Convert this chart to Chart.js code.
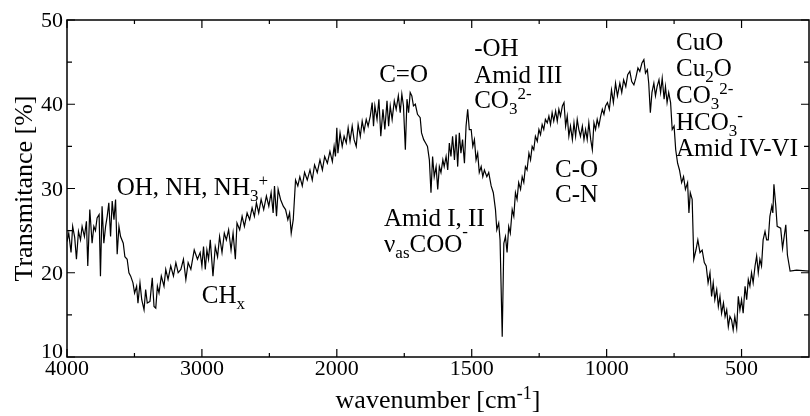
<!DOCTYPE html>
<html>
<head>
<meta charset="utf-8">
<script src="https://cdn.jsdelivr.net/npm/chart.js@4.4.1/dist/chart.umd.min.js"></script>
<style>
  html, body { margin: 0; padding: 0; background: #fff; }
  #wrap { width: 810px; height: 416px; position: relative; }
</style>
</head>
<body>
<div id="wrap"><canvas id="ir"></canvas></div>
<script>
// spectrum (wavenumber in cm-1, transmittance in %)
const wavenumber = [
  4000, 3987, 3970, 3958, 3943, 3930, 3915, 3900, 3888, 3871, 3856, 3846, 3831, 3814, 3801, 3789,
  3777, 3762, 3752, 3740, 3727, 3714, 3702, 3690, 3677, 3665, 3652, 3640, 3628, 3615, 3603, 3583,
  3571, 3554, 3541, 3528, 3511, 3499, 3484, 3474, 3459, 3446, 3429, 3417, 3405, 3385, 3368, 3355,
  3342, 3330, 3318, 3301, 3281, 3268, 3251, 3231, 3211, 3193, 3176, 3156, 3137, 3119, 3102, 3082,
  3057, 3033, 3013, 3000, 2988, 2975, 2963, 2951, 2938, 2918, 2901, 2884, 2869, 2851, 2834, 2819,
  2802, 2784, 2769, 2752, 2740, 2720, 2702, 2685, 2665, 2646, 2628, 2611, 2596, 2579, 2561, 2542,
  2522, 2504, 2487, 2472, 2462, 2447, 2435, 2417, 2397, 2380, 2363, 2350, 2338, 2323, 2306, 2289,
  2274, 2256, 2239, 2219, 2199, 2182, 2165, 2145, 2125, 2107, 2090, 2070, 2051, 2033, 2020, 2010,
  2000, 1996, 1988, 1980, 1973, 1965, 1958, 1951, 1943, 1936, 1928, 1921, 1913, 1906, 1899, 1891,
  1884, 1876, 1869, 1864, 1859, 1851, 1844, 1837, 1829, 1822, 1814, 1808, 1802, 1795, 1787, 1780,
  1772, 1765, 1759, 1753, 1746, 1740, 1734, 1728, 1722, 1716, 1709, 1701, 1691, 1686, 1678, 1671,
  1664, 1657, 1651, 1645, 1639, 1632, 1626, 1620, 1614, 1607, 1602, 1595, 1589, 1583, 1577, 1571,
  1564, 1558, 1552, 1546, 1540, 1534, 1527, 1521, 1515, 1509, 1502, 1496, 1490, 1484, 1478, 1472,
  1465, 1459, 1453, 1444, 1437, 1428, 1420, 1412, 1407, 1400, 1395, 1387, 1381, 1375, 1369, 1363,
  1357, 1350, 1344, 1338, 1332, 1326, 1319, 1313, 1307, 1301, 1295, 1288, 1282, 1276, 1270, 1264,
  1257, 1251, 1245, 1239, 1233, 1227, 1220, 1214, 1208, 1202, 1196, 1189, 1183, 1177, 1171, 1164,
  1158, 1152, 1146, 1140, 1134, 1127, 1121, 1115, 1109, 1103, 1097, 1090, 1084, 1078, 1072, 1066,
  1059, 1053, 1047, 1041, 1035, 1029, 1022, 1016, 1010, 1004, 997, 990, 982, 975, 967, 960,
  951, 944, 937, 929, 922, 914, 907, 899, 892, 884, 877, 869, 862, 856, 849, 844,
  838, 832, 825, 819, 813, 806, 800, 794, 787, 782, 776, 770, 763, 757, 750, 744,
  737, 730, 722, 715, 708, 700, 695, 690, 683, 677, 669, 662, 654, 646, 638, 631,
  624, 617, 611, 605, 599, 592, 586, 580, 574, 567, 561, 555, 549, 543, 537, 531,
  525, 518, 512, 506, 500, 494, 487, 481, 475, 469, 463, 457, 450, 444, 438, 432,
  426, 420, 413, 407, 401, 395, 388, 384, 380, 373, 368, 355, 348, 336, 330, 320,
  296, 250
];
const transmittance = [
  23.7, 24.7, 22.4, 25.5, 24.2, 21.6, 24.9, 23.9, 25.5, 24.3, 26.1, 20.8, 27.5, 23.5, 25.5, 25.0,
  26.5, 26.9, 19.6, 27.9, 23.5, 25.5, 26.7, 28.3, 24.3, 28.5, 26.3, 28.7, 22.2, 25.5, 24.3, 23.5,
  21.9, 21.6, 20.0, 19.6, 18.8, 17.6, 18.4, 16.4, 18.8, 16.8, 15.6, 18.0, 16.4, 16.6, 19.4, 16.0,
  15.8, 18.4, 17.6, 19.6, 18.4, 20.4, 19.2, 20.8, 19.6, 21.2, 20.0, 20.4, 21.6, 19.2, 21.2, 20.4,
  22.7, 21.6, 22.4, 20.8, 23.1, 20.4, 22.7, 21.6, 23.9, 19.6, 23.1, 21.9, 24.3, 22.4, 24.7, 23.9,
  25.1, 22.7, 24.7, 21.6, 25.9, 25.1, 26.7, 25.5, 27.1, 26.3, 27.7, 26.7, 28.3, 27.1, 28.7, 27.5,
  29.1, 27.9, 29.5, 27.1, 30.3, 26.7, 29.9, 28.7, 27.9, 27.5, 26.3, 27.1, 24.7, 26.3, 31.0, 30.3,
  31.4, 30.3, 31.9, 31.0, 32.2, 31.0, 32.8, 31.9, 33.4, 32.2, 33.8, 33.0, 34.4, 33.2, 35.0, 33.8,
  37.2, 34.2, 36.6, 35.0, 36.2, 35.4, 37.2, 35.6, 37.4, 35.8, 35.0, 37.6, 36.2, 38.0, 36.8, 38.2,
  37.4, 38.6, 40.2, 37.4, 39.8, 38.2, 40.6, 36.2, 39.4, 37.0, 40.4, 37.4, 39.8, 38.2, 40.4, 39.4,
  41.0, 39.0, 41.2, 39.8, 34.6, 40.6, 39.0, 41.4, 41.0, 39.8, 40.0, 38.8, 38.4, 36.6, 35.8, 35.4,
  35.0, 33.4, 29.5, 33.8, 31.4, 32.6, 29.9, 32.6, 31.9, 33.4, 32.6, 33.8, 32.2, 35.4, 33.8, 36.2,
  33.4, 36.4, 32.6, 36.6, 34.2, 35.8, 33.0, 37.4, 39.4, 37.0, 37.0, 35.0, 35.8, 33.4, 34.2, 31.9,
  32.6, 31.4, 32.2, 31.4, 31.9, 30.3, 29.5, 27.5, 25.1, 25.9, 23.9, 12.4, 23.5, 24.3, 22.4, 25.5,
  24.7, 27.5, 26.7, 29.5, 28.7, 30.7, 29.9, 31.4, 30.7, 32.6, 32.2, 34.2, 33.4, 35.0, 34.6, 36.2,
  35.6, 37.0, 36.4, 37.6, 37.0, 38.2, 37.8, 38.6, 37.6, 39.0, 38.0, 39.2, 38.0, 39.4, 38.6, 39.8,
  40.2, 37.4, 38.6, 36.2, 37.4, 35.8, 37.8, 36.2, 38.2, 37.0, 36.2, 37.4, 35.8, 37.0, 35.8, 37.8,
  35.8, 34.6, 37.8, 37.0, 38.2, 37.4, 38.6, 39.4, 38.8, 39.8, 40.2, 39.4, 41.7, 40.2, 42.5, 41.0,
  42.5, 41.4, 42.9, 42.1, 43.5, 43.9, 42.7, 42.3, 43.1, 44.3, 43.9, 44.9, 45.3, 43.7, 44.1, 42.5,
  39.0, 41.4, 42.5, 41.0, 42.1, 42.9, 41.4, 43.1, 40.6, 42.1, 40.2, 41.4, 40.2, 37.0, 37.4, 34.6,
  33.0, 32.2, 30.7, 31.4, 29.9, 30.7, 27.1, 29.5, 28.7, 21.6, 22.7, 23.9, 22.4, 22.7, 21.2, 20.8,
  18.8, 20.0, 17.2, 18.8, 16.8, 18.0, 16.0, 17.2, 15.2, 16.4, 14.8, 15.6, 13.6, 14.8, 14.4, 13.2,
  14.8, 13.4, 17.2, 15.6, 16.8, 15.2, 18.4, 16.8, 19.2, 18.4, 20.0, 18.8, 20.8, 22.0, 20.0, 21.6,
  20.8, 23.9, 24.9, 23.9, 23.9, 26.7, 27.9, 27.1, 30.5, 27.9, 25.5, 25.3, 22.9, 25.7, 22.1, 20.2,
  20.3, 20.2
];

// axis ticks
const xMajor = [4000, 3000, 2000, 1500, 1000, 500];
const xMinor = [3500, 2500, 1750, 1250, 750];
const yMajor = [10, 20, 30, 40, 50];
const yMinor = [15, 25, 35, 45];

// band labels, anchored at (wavenumber, transmittance) of each line's baseline start
const notes = [
  { w: 3632, v: 29.2, segs: [['OH, NH, NH'], ['3', 'sub'], ['+', 'sup']] },
  { w: 3001, v: 16.45, segs: [['CH'], ['x', 'sub']] },
  { w: 1843, v: 42.6, segs: [['C=O']] },
  { w: 1825, v: 25.5, segs: [['Amid I, II']] },
  { w: 1825, v: 22.5, segs: [['\u03bd'], ['as', 'sub'], ['COO'], ['-', 'high']] },
  { w: 1491, v: 45.7, segs: [['-OH']] },
  { w: 1491, v: 42.5, segs: [['Amid III']] },
  { w: 1491, v: 39.6, segs: [['CO'], ['3', 'sub'], ['2-', 'sup']] },
  { w: 1191, v: 31.35, segs: [['C-O']] },
  { w: 1191, v: 28.4, segs: [['C-N']] },
  { w: 743, v: 46.4, segs: [['CuO']] },
  { w: 743, v: 43.3, segs: [['Cu'], ['2', 'sub'], ['O']] },
  { w: 743, v: 40.2, segs: [['CO'], ['3', 'sub'], ['2-', 'sup']] },
  { w: 743, v: 37.0, segs: [['HCO'], ['3', 'sub'], ['-', 'sup']] },
  { w: 743, v: 33.9, segs: [['Amid IV-VI']] }
];

// the spectrometer axis is compressed by 2 above 2000 cm-1
function toAxis(w) { return w <= 2000 ? w : 2000 + (w - 2000) / 2; }

const FONT = '"Liberation Serif", "Times New Roman", serif';

function drawRich(ctx, x, y, segs, size) {
  let cx = x;
  segs.forEach(function(s) {
    const kind = s[1];
    const small = !!kind;
    const fs = small ? Math.round(size * 0.68) : size;
    ctx.font = fs + 'px ' + FONT;
    let dy = 0;
    if (kind === 'sub') dy = 6;
    if (kind === 'sup') dy = -9;
    if (kind === 'high') dy = -15;
    ctx.fillText(s[0], cx, y + dy);
    cx += ctx.measureText(s[0]).width;
  });
}

const framePlugin = {
  id: 'frame',
  afterDraw(chart) {
    const ctx = chart.ctx;
    const a = chart.chartArea;
    const xs = chart.scales.x, ys = chart.scales.y;
    ctx.save();
    ctx.strokeStyle = '#000';
    ctx.fillStyle = '#000';
    ctx.lineWidth = 1.5;
    ctx.strokeRect(a.left, a.top, a.right - a.left, a.bottom - a.top);

    ctx.lineWidth = 1.2;
    ctx.beginPath();
    xMajor.concat(xMinor).forEach(function(w) {
      const len = xMajor.includes(w) ? 8 : 4;
      const px = xs.getPixelForValue(toAxis(w));
      ctx.moveTo(px, a.bottom); ctx.lineTo(px, a.bottom - len);
      ctx.moveTo(px, a.top); ctx.lineTo(px, a.top + len);
    });
    yMajor.concat(yMinor).forEach(function(v) {
      const len = yMajor.includes(v) ? 8 : 5;
      const py = ys.getPixelForValue(v);
      ctx.moveTo(a.left, py); ctx.lineTo(a.left + len, py);
      ctx.moveTo(a.right, py); ctx.lineTo(a.right - len, py);
    });
    ctx.stroke();

    // tick labels
    ctx.font = '22px ' + FONT;
    ctx.textBaseline = 'alphabetic';
    ctx.textAlign = 'center';
    xMajor.forEach(function(w) {
      ctx.fillText(String(w), xs.getPixelForValue(toAxis(w)), a.bottom + 18);
    });
    ctx.textAlign = 'right';
    yMajor.forEach(function(v) {
      const py = ys.getPixelForValue(v);
      ctx.fillText(String(v), a.left - 4, py + (v === 10 ? 1 : 7));
    });

    // axis titles
    ctx.textAlign = 'left';
    const tsize = 26;
    ctx.font = tsize + 'px ' + FONT;
    const t1 = 'wavenumber [cm', t2 = '-1', t3 = ']';
    const w1 = ctx.measureText(t1).width, w3 = ctx.measureText(t3).width;
    ctx.font = Math.round(tsize * 0.68) + 'px ' + FONT;
    const w2 = ctx.measureText(t2).width;
    let tx = (a.left + a.right) / 2 - (w1 + w2 + w3) / 2;
    drawRich(ctx, tx, 408, [[t1], [t2, 'sup'], [t3]], tsize);

    ctx.save();
    ctx.translate(32, (a.top + a.bottom) / 2);
    ctx.rotate(-Math.PI / 2);
    ctx.textAlign = 'center';
    ctx.font = tsize + 'px ' + FONT;
    ctx.fillText('Transmitance [%]', 0, 0);
    ctx.restore();

    // band labels
    ctx.textAlign = 'left';
    notes.forEach(function(n) {
      drawRich(ctx, xs.getPixelForValue(toAxis(n.w)), ys.getPixelForValue(n.v), n.segs, 25);
    });
    ctx.restore();
  }
};

const points = wavenumber.map(function(w, i) { return { x: toAxis(w), y: transmittance[i] }; });

new Chart(document.getElementById('ir'), {
  type: 'line',
  data: {
    datasets: [{
      data: points,
      borderColor: '#000',
      borderWidth: 1.2,
      pointRadius: 0,
      tension: 0,
      fill: false
    }]
  },
  options: {
    responsive: true,
    maintainAspectRatio: false,
    animation: false,
    events: [],
    layout: { padding: { left: 0, top: 20, right: 1, bottom: 0 } },
    plugins: { legend: { display: false }, tooltip: { enabled: false } },
    scales: {
      x: {
        type: 'linear',
        reverse: true,
        min: 250,
        max: 3000,
        grid: { display: false, drawTicks: false },
        border: { display: false },
        ticks: { display: false },
        afterFit: function(s) { s.height = 59; }
      },
      y: {
        type: 'linear',
        min: 10,
        max: 50,
        grid: { display: false, drawTicks: false },
        border: { display: false },
        ticks: { display: false },
        afterFit: function(s) { s.width = 67; }
      }
    }
  },
  plugins: [framePlugin]
});
</script>
</body>
</html>
